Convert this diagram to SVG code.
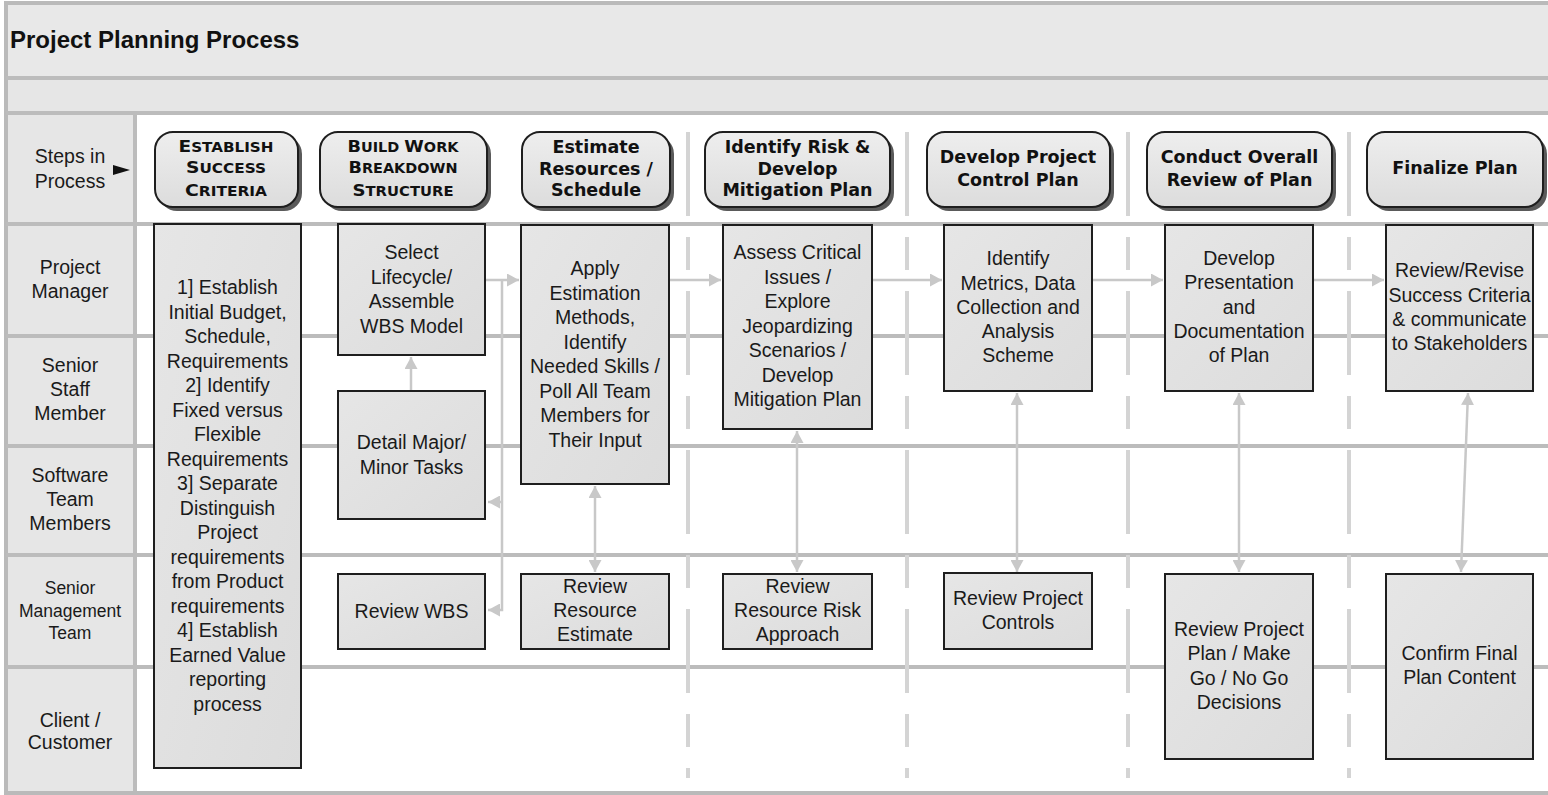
<svg xmlns="http://www.w3.org/2000/svg" width="1548" height="795" viewBox="0 0 1548 795">
<defs>
<linearGradient id="boxg" x1="0" y1="0" x2="1" y2="1">
<stop offset="0" stop-color="#e6e6e6"/>
<stop offset="1" stop-color="#dcdcdc"/>
</linearGradient>
<linearGradient id="stepg" x1="0" y1="0" x2="0" y2="1">
<stop offset="0" stop-color="#eeeeee"/>
<stop offset="1" stop-color="#dcdcdc"/>
</linearGradient>
<marker id="ah" markerUnits="userSpaceOnUse" markerWidth="13" markerHeight="13" refX="12" refY="6.5" orient="auto-start-reverse">
<path d="M0,0 L12,6.5 L0,13 z" fill="#c8c8c8"/>
</marker>
<style>
.band{fill:#e8e8e8}
.frame{stroke:#bababa;stroke-width:4;fill:none}
.lane{stroke:#bcbcbc;stroke-width:4}
.sep{stroke:#d4d4d4;stroke-width:4;stroke-dasharray:84 21 33 21;fill:none}
.box{fill:url(#boxg);stroke:#1e1e1e;stroke-width:2}
.step{fill:url(#stepg);stroke:#1e1e1e;stroke-width:2}
.shadow{fill:#5a5a5a}
.t{font-family:"Liberation Sans",Arial,sans-serif;font-size:19.5px;fill:#1a1a1a;text-anchor:middle}
.ls{font-family:"Liberation Sans",Arial,sans-serif;font-size:19.5px;fill:#1a1a1a;text-anchor:middle}
.h{font-family:"DejaVu Sans",sans-serif;font-weight:bold;font-size:17.5px;fill:#111;text-anchor:middle}
.sc{font-family:"DejaVu Sans",sans-serif;font-weight:bold;fill:#111;text-anchor:middle;font-size:13.5px}
.big{font-size:16.5px}
.conn{stroke:#c8c8c8;stroke-width:2.5;fill:none}
.title{font-family:"Liberation Sans",Arial,sans-serif;font-weight:bold;font-size:24px;fill:#111}
</style>
</defs>

<!-- background & frame -->
<rect x="0" y="0" width="1548" height="795" fill="#ffffff"/>
<rect x="6" y="3" width="1542" height="75" class="band"/>
<rect x="6" y="78" width="1542" height="35" fill="#e6e6e6"/>
<rect x="6" y="113" width="129" height="680" fill="#e6e6e6"/>
<g id="frame">
<line x1="6" y1="3" x2="1548" y2="3" class="frame" stroke-width="3"/>
<line x1="6" y1="1" x2="6" y2="795" class="frame"/>
<line x1="6" y1="78" x2="1548" y2="78" class="lane"/>
<line x1="6" y1="113" x2="1548" y2="113" class="lane"/>
<line x1="135" y1="113" x2="135" y2="793" class="lane"/>
<line x1="6" y1="224" x2="1548" y2="224" class="lane"/>
<line x1="6" y1="336" x2="1548" y2="336" class="lane"/>
<line x1="6" y1="446" x2="1548" y2="446" class="lane"/>
<line x1="6" y1="555" x2="1548" y2="555" class="lane"/>
<line x1="6" y1="667" x2="1548" y2="667" class="lane"/>
<line x1="6" y1="793" x2="1548" y2="793" class="frame" stroke-width="3"/>
</g>

<text x="10" y="48" class="title">Project Planning Process</text>

<!-- lane labels -->
<g id="lane-labels">
<text class="ls" x="70"><tspan x="70" y="163">Steps in</tspan><tspan x="70" y="188">Process</tspan></text>
<polygon points="113,165 130,170 113,175" fill="#111"/>
<text class="ls"><tspan x="70" y="274">Project</tspan><tspan x="70" y="298">Manager</tspan></text>
<text class="ls"><tspan x="70" y="372">Senior</tspan><tspan x="70" y="396">Staff</tspan><tspan x="70" y="420">Member</tspan></text>
<text class="ls"><tspan x="70" y="482">Software</tspan><tspan x="70" y="506">Team</tspan><tspan x="70" y="530">Members</tspan></text>
<text class="ls" style="font-size:17.5px"><tspan x="70" y="594">Senior</tspan><tspan x="70" y="617">Management</tspan><tspan x="70" y="639">Team</tspan></text>
<text class="ls"><tspan x="70" y="727">Client /</tspan><tspan x="70" y="749">Customer</tspan></text>
</g>

<!-- dashed separators -->
<g id="separators">
<line x1="688" y1="132" x2="688" y2="778" class="sep"/>
<line x1="907" y1="132" x2="907" y2="778" class="sep"/>
<line x1="1128" y1="132" x2="1128" y2="778" class="sep"/>
<line x1="1349" y1="132" x2="1349" y2="778" class="sep"/>
</g>

<!-- step header nodes -->
<g id="step1">
<rect x="159" y="136" width="143" height="75" rx="18" class="shadow"/>
<rect x="155" y="132" width="143" height="75" rx="18" class="step"/>
<text class="sc" x="226" y="152" textLength="95" lengthAdjust="spacingAndGlyphs"><tspan class="big">E</tspan>STABLISH</text>
<text class="sc" x="226" y="173" textLength="80" lengthAdjust="spacingAndGlyphs"><tspan class="big">S</tspan>UCCESS</text>
<text class="sc" x="226" y="196" textLength="82" lengthAdjust="spacingAndGlyphs"><tspan class="big">C</tspan>RITERIA</text>
</g>
<g id="step2">
<rect x="324" y="136" width="167" height="75" rx="18" class="shadow"/>
<rect x="320" y="132" width="167" height="75" rx="18" class="step"/>
<text class="sc" x="403" y="152" textLength="111" lengthAdjust="spacingAndGlyphs"><tspan class="big">B</tspan>UILD <tspan class="big">W</tspan>ORK</text>
<text class="sc" x="403" y="173" textLength="109" lengthAdjust="spacingAndGlyphs"><tspan class="big">B</tspan>REAKDOWN</text>
<text class="sc" x="403" y="196" textLength="101" lengthAdjust="spacingAndGlyphs"><tspan class="big">S</tspan>TRUCTURE</text>
</g>
<g id="step3">
<rect x="526" y="136" width="148" height="75" rx="18" class="shadow"/>
<rect x="522" y="132" width="148" height="75" rx="18" class="step"/>
<text class="h"><tspan x="596" y="153">Estimate</tspan><tspan x="596" y="174.5">Resources /</tspan><tspan x="596" y="196">Schedule</tspan></text>
</g>
<g id="step4">
<rect x="709" y="136" width="185" height="75" rx="18" class="shadow"/>
<rect x="705" y="132" width="185" height="75" rx="18" class="step"/>
<text class="h"><tspan x="797.5" y="153">Identify Risk &amp;</tspan><tspan x="797.5" y="174.5">Develop</tspan><tspan x="797.5" y="196">Mitigation Plan</tspan></text>
</g>
<g id="step5">
<rect x="931" y="136" width="183" height="75" rx="18" class="shadow"/>
<rect x="927" y="132" width="183" height="75" rx="18" class="step"/>
<text class="h"><tspan x="1018" y="163">Develop Project</tspan><tspan x="1018" y="186">Control Plan</tspan></text>
</g>
<g id="step6">
<rect x="1151" y="136" width="185" height="75" rx="18" class="shadow"/>
<rect x="1147" y="132" width="185" height="75" rx="18" class="step"/>
<text class="h"><tspan x="1239.5" y="163">Conduct Overall</tspan><tspan x="1239.5" y="186">Review of Plan</tspan></text>
</g>
<g id="step7">
<rect x="1371" y="136" width="176" height="75" rx="18" class="shadow"/>
<rect x="1367" y="132" width="176" height="75" rx="18" class="step"/>
<text class="h"><tspan x="1455" y="174">Finalize Plan</tspan></text>
</g>

<!-- connectors -->
<g id="connectors">
<path d="M485,280 H519" class="conn" marker-end="url(#ah)"/>
<path d="M502,280 V610 H488" class="conn" marker-end="url(#ah)"/>
<path d="M502,502 H488" class="conn" marker-end="url(#ah)"/>
<path d="M411,391 V357" class="conn" marker-end="url(#ah)"/>
<path d="M669,280 H721" class="conn" marker-end="url(#ah)"/>
<path d="M872,280 H942" class="conn" marker-end="url(#ah)"/>
<path d="M1092,280 H1163" class="conn" marker-end="url(#ah)"/>
<path d="M1313,280 H1384" class="conn" marker-end="url(#ah)"/>
<path d="M595,486 V572" class="conn" marker-start="url(#ah)" marker-end="url(#ah)"/>
<path d="M797,431 V572" class="conn" marker-start="url(#ah)" marker-end="url(#ah)"/>
<path d="M1017,393 V572" class="conn" marker-start="url(#ah)" marker-end="url(#ah)"/>
<path d="M1239,393 V572" class="conn" marker-start="url(#ah)" marker-end="url(#ah)"/>
<path d="M1468,393 L1461,572" class="conn" marker-start="url(#ah)" marker-end="url(#ah)"/>
</g>

<!-- task nodes -->
<g id="n-establish">
<rect x="154" y="224" width="147" height="544" class="box"/>
<text class="t"><tspan x="227.5" y="294">1] Establish</tspan><tspan x="227.5" y="318.5">Initial Budget,</tspan><tspan x="227.5" y="343">Schedule,</tspan><tspan x="227.5" y="367.5">Requirements</tspan><tspan x="227.5" y="392">2] Identify</tspan><tspan x="227.5" y="416.5">Fixed versus</tspan><tspan x="227.5" y="441">Flexible</tspan><tspan x="227.5" y="465.5">Requirements</tspan><tspan x="227.5" y="490">3] Separate</tspan><tspan x="227.5" y="514.5">Distinguish</tspan><tspan x="227.5" y="539">Project</tspan><tspan x="227.5" y="563.5">requirements</tspan><tspan x="227.5" y="588">from Product</tspan><tspan x="227.5" y="612.5">requirements</tspan><tspan x="227.5" y="637">4] Establish</tspan><tspan x="227.5" y="661.5">Earned Value</tspan><tspan x="227.5" y="686">reporting</tspan><tspan x="227.5" y="710.5">process</tspan></text>
</g>
<g id="n-select">
<rect x="338" y="224" width="147" height="131" class="box"/>
<text class="t"><tspan x="411.5" y="259">Select</tspan><tspan x="411.5" y="283.5">Lifecycle/</tspan><tspan x="411.5" y="308">Assemble</tspan><tspan x="411.5" y="332.5">WBS Model</tspan></text>
</g>
<g id="n-detail">
<rect x="338" y="391" width="147" height="128" class="box"/>
<text class="t"><tspan x="411.5" y="449">Detail Major/</tspan><tspan x="411.5" y="473.5">Minor Tasks</tspan></text>
</g>
<g id="n-reviewwbs">
<rect x="338" y="574" width="147" height="75" class="box"/>
<text class="t"><tspan x="411.5" y="618">Review WBS</tspan></text>
</g>
<g id="n-apply">
<rect x="521" y="225" width="148" height="259" class="box"/>
<text class="t"><tspan x="595" y="275">Apply</tspan><tspan x="595" y="299.5">Estimation</tspan><tspan x="595" y="324">Methods,</tspan><tspan x="595" y="348.5">Identify</tspan><tspan x="595" y="373">Needed Skills /</tspan><tspan x="595" y="397.5">Poll All Team</tspan><tspan x="595" y="422">Members for</tspan><tspan x="595" y="446.5">Their Input</tspan></text>
</g>
<g id="n-reviewres">
<rect x="521" y="574" width="148" height="75" class="box"/>
<text class="t"><tspan x="595" y="593">Review</tspan><tspan x="595" y="617">Resource</tspan><tspan x="595" y="641">Estimate</tspan></text>
</g>
<g id="n-assess">
<rect x="723" y="225" width="149" height="204" class="box"/>
<text class="t"><tspan x="797.5" y="259">Assess Critical</tspan><tspan x="797.5" y="284">Issues /</tspan><tspan x="797.5" y="308">Explore</tspan><tspan x="797.5" y="333">Jeopardizing</tspan><tspan x="797.5" y="357">Scenarios /</tspan><tspan x="797.5" y="382">Develop</tspan><tspan x="797.5" y="406">Mitigation Plan</tspan></text>
</g>
<g id="n-reviewrisk">
<rect x="723" y="574" width="149" height="75" class="box"/>
<text class="t"><tspan x="797.5" y="593">Review</tspan><tspan x="797.5" y="617">Resource Risk</tspan><tspan x="797.5" y="641">Approach</tspan></text>
</g>
<g id="n-metrics">
<rect x="944" y="225" width="148" height="166" class="box"/>
<text class="t"><tspan x="1018" y="265">Identify</tspan><tspan x="1018" y="290">Metrics, Data</tspan><tspan x="1018" y="314">Collection and</tspan><tspan x="1018" y="338">Analysis</tspan><tspan x="1018" y="362">Scheme</tspan></text>
</g>
<g id="n-controls">
<rect x="944" y="573" width="148" height="76" class="box"/>
<text class="t"><tspan x="1018" y="605">Review Project</tspan><tspan x="1018" y="629">Controls</tspan></text>
</g>
<g id="n-present">
<rect x="1165" y="225" width="148" height="166" class="box"/>
<text class="t"><tspan x="1239" y="265">Develop</tspan><tspan x="1239" y="289">Presentation</tspan><tspan x="1239" y="314">and</tspan><tspan x="1239" y="338">Documentation</tspan><tspan x="1239" y="362">of Plan</tspan></text>
</g>
<g id="n-gonogo">
<rect x="1165" y="574" width="148" height="185" class="box"/>
<text class="t"><tspan x="1239" y="636">Review Project</tspan><tspan x="1239" y="660">Plan / Make</tspan><tspan x="1239" y="685">Go / No Go</tspan><tspan x="1239" y="709">Decisions</tspan></text>
</g>
<g id="n-revise">
<rect x="1386" y="225" width="147" height="166" class="box"/>
<text class="t"><tspan x="1459.5" y="277">Review/Revise</tspan><tspan x="1459.5" y="302">Success Criteria</tspan><tspan x="1459.5" y="326">&amp; communicate</tspan><tspan x="1459.5" y="350">to Stakeholders</tspan></text>
</g>
<g id="n-confirm">
<rect x="1386" y="574" width="147" height="185" class="box"/>
<text class="t"><tspan x="1459.5" y="660">Confirm Final</tspan><tspan x="1459.5" y="684">Plan Content</tspan></text>
</g>
</svg>
